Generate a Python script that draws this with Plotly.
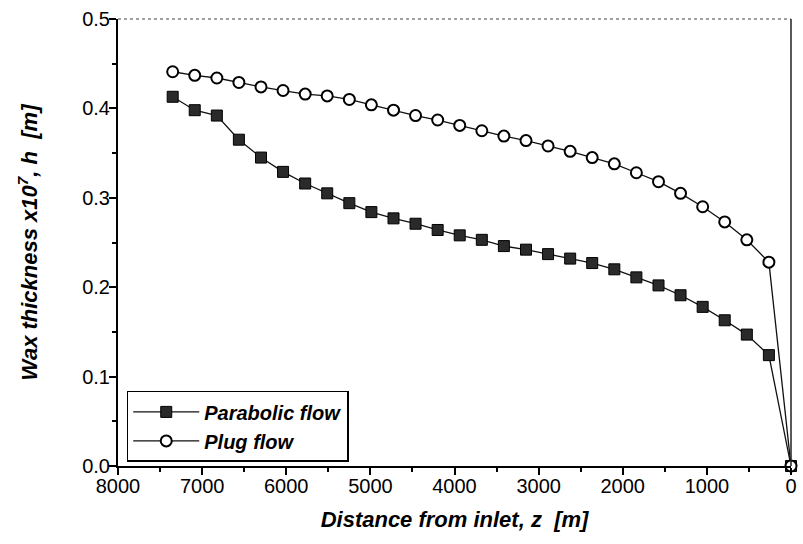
import plotly.graph_objects as go

distance = [7350, 7088, 6825, 6563, 6300, 6038, 5775, 5513, 5250, 4988,
            4725, 4463, 4200, 3938, 3675, 3413, 3150, 2888, 2625, 2363,
            2100, 1838, 1575, 1313, 1050, 788, 525, 263, 0]

parabolic = [0.413, 0.398, 0.392, 0.365, 0.345, 0.329, 0.316, 0.305, 0.294, 0.284,
             0.277, 0.271, 0.264, 0.258, 0.253, 0.246, 0.242, 0.237, 0.232, 0.227,
             0.220, 0.211, 0.202, 0.191, 0.178, 0.163, 0.147, 0.124, 0.0]

plug = [0.441, 0.437, 0.434, 0.429, 0.424, 0.420, 0.416, 0.414, 0.410, 0.404,
        0.398, 0.392, 0.387, 0.381, 0.375, 0.369, 0.364, 0.358, 0.352, 0.345,
        0.338, 0.328, 0.318, 0.305, 0.290, 0.273, 0.253, 0.228, 0.0]

x_ticks = [8000, 7000, 6000, 5000, 4000, 3000, 2000, 1000, 0]
y_ticks = [0.0, 0.1, 0.2, 0.3, 0.4, 0.5]

FONT = "Liberation Sans, Arial, sans-serif"

fig = go.Figure()
fig.add_trace(go.Scatter(
    x=distance, y=parabolic, mode="lines+markers", name="<b><i>Parabolic flow</i></b>",
    line=dict(color="#111111", width=1.3),
    marker=dict(symbol="square", size=11, color="#2a2a2a", line=dict(color="#000000", width=1)),
    cliponaxis=False,
))
fig.add_trace(go.Scatter(
    x=distance, y=plug, mode="lines+markers", name="<b><i>Plug flow</i></b>",
    line=dict(color="#111111", width=1.3),
    marker=dict(symbol="circle", size=11, color="white", line=dict(color="#000000", width=2)),
    cliponaxis=False,
))

fig.update_layout(
    width=803, height=544,
    margin=dict(l=118, r=6, t=19, b=78),
    paper_bgcolor="white", plot_bgcolor="white",
    font=dict(family=FONT, color="black", size=18),
    showlegend=True,
    legend=dict(
        x=0.013, y=0.168, xanchor="left", yanchor="top",
        bgcolor="white", bordercolor="black", borderwidth=1.5,
        font=dict(size=20, family=FONT), tracegroupgap=0,
        itemwidth=66,
    ),
    xaxis=dict(
        range=[8000, 0], tickvals=x_ticks, ticktext=[str(v) for v in x_ticks],
        showgrid=False, zeroline=False, showline=True, linecolor="black", linewidth=2,
        ticks="outside", ticklen=7, tickwidth=2, tickcolor="black",
        minor=dict(ticks="outside", ticklen=4, tickwidth=1.5, tickcolor="black", dtick=500),
        tickfont=dict(size=20, family=FONT), ticklabelstandoff=-6,
        title=dict(text="<b><i>Distance from inlet, z  [m]</i></b>", font=dict(size=22, family=FONT), standoff=16),
    ),
    yaxis=dict(
        range=[0, 0.5], tickvals=y_ticks, ticktext=["%.1f" % v for v in y_ticks],
        showgrid=False, zeroline=False, showline=True, linecolor="black", linewidth=2,
        ticks="outside", ticklen=7, tickwidth=2, tickcolor="black",
        minor=dict(ticks="outside", ticklen=4, tickwidth=1.5, tickcolor="black", dtick=0.05),
        tickfont=dict(size=20, family=FONT), ticklabelstandoff=-5,
        title=dict(text="<b><i>Wax thickness x10<sup>7</sup>, h  [m]</i></b>", font=dict(size=22, family=FONT), standoff=38),
    ),
    shapes=[
        dict(type="line", xref="paper", yref="paper", x0=0, x1=1, y0=1, y1=1,
             line=dict(color="#444444", width=1.2, dash="dot")),
        dict(type="line", xref="paper", yref="paper", x0=1, x1=1, y0=0, y1=1,
             line=dict(color="#222222", width=1.5)),
    ],
)

fig.write_html("out.html")
